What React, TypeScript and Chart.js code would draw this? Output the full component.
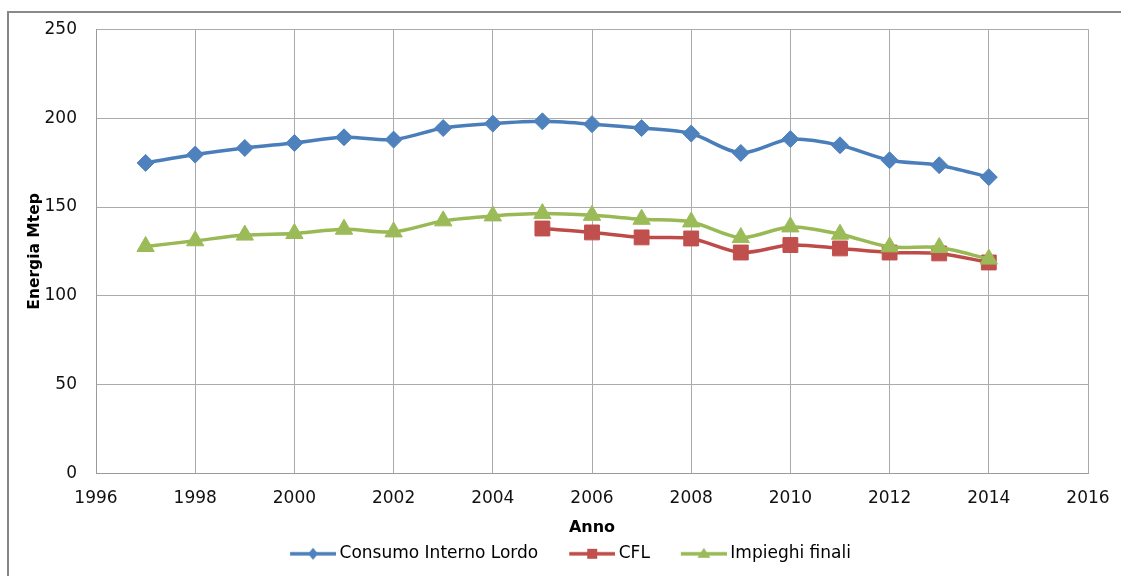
import React, { useEffect, useRef } from "react";
import { Chart, registerables } from "chart.js";

Chart.register(...registerables);

// ---- data ----
const years = [1997, 1998, 1999, 2000, 2001, 2002, 2003, 2004, 2005, 2006, 2007, 2008, 2009, 2010, 2011, 2012, 2013, 2014];
const consumoInternoLordo = [174.8, 179.5, 183.2, 186.0, 189.2, 187.9, 194.4, 196.9, 198.2, 196.6, 194.4, 191.3, 180.4, 188.2, 184.7, 176.3, 173.5, 166.8];
const impieghiFinali = [127.8, 131.0, 134.2, 135.1, 137.5, 136.0, 142.2, 145.0, 146.3, 145.3, 143.1, 141.6, 132.8, 138.8, 134.7, 127.6, 127.2, 120.7];
const cflYears = [2005, 2006, 2007, 2008, 2009, 2010, 2011, 2012, 2013, 2014];
const cfl = [137.9, 135.7, 132.9, 132.3, 124.4, 128.6, 126.7, 124.4, 123.9, 118.8];

const seriesNames = ["Consumo Interno Lordo", "CFL", "Impieghi finali"];
const xTitle = "Anno";
const yTitle = "Energia Mtep";
const xMin = 1996, xMax = 2016, xStep = 2;
const yMin = 0, yMax = 250, yStep = 50;

const BLUE_LINE = "#4A7EBB", BLUE_FILL = "#4F81BD";
const RED_LINE = "#BE4B48", RED_FILL = "#C0504D";
const GREEN_LINE = "#98B954", GREEN_FILL = "#9BBB59";

function toPoints(xs: number[], ys: number[]) {
  return xs.map((x, i) => ({ x, y: ys[i] }));
}

function legendIcon(lineColor: string, fill: string, shape: string) {
  const c = document.createElement("canvas");
  c.width = 74;
  c.height = 20;
  const ctx = c.getContext("2d")!;
  ctx.strokeStyle = lineColor;
  ctx.lineWidth = 3.5;
  ctx.beginPath();
  ctx.moveTo(28, 10);
  ctx.lineTo(74, 10);
  ctx.stroke();
  const cx = 51, cy = 10;
  ctx.fillStyle = fill;
  ctx.beginPath();
  if (shape === "diamond") {
    ctx.moveTo(cx, cy - 6);
    ctx.lineTo(cx + 5, cy);
    ctx.lineTo(cx, cy + 6);
    ctx.lineTo(cx - 5, cy);
  } else if (shape === "square") {
    ctx.rect(cx - 5, cy - 5, 10, 10);
  } else {
    ctx.moveTo(cx, cy - 6);
    ctx.lineTo(cx + 6.5, cy + 4);
    ctx.lineTo(cx - 6.5, cy + 4);
  }
  ctx.closePath();
  ctx.fill();
  return c;
}

export default function App() {
  const ref = useRef<HTMLCanvasElement>(null);

  useEffect(() => {
    const canvas = ref.current!;
    Chart.defaults.font.family = "'DejaVu Sans', sans-serif";
    Chart.defaults.color = "#111";

    const icons = [
      legendIcon(BLUE_LINE, BLUE_FILL, "diamond"),
      legendIcon(RED_LINE, RED_FILL, "square"),
      legendIcon(GREEN_LINE, GREEN_FILL, "triangle"),
    ];

    const chart = new Chart(canvas, {
      type: "line",
      data: {
        datasets: [
          {
            label: seriesNames[0],
            data: toPoints(years, consumoInternoLordo),
            borderColor: BLUE_LINE,
            backgroundColor: BLUE_FILL,
            pointBackgroundColor: BLUE_FILL,
            pointBorderColor: BLUE_FILL,
            pointStyle: "rectRot",
            pointRadius: 8.5,
            pointBorderWidth: 1,
            borderWidth: 3.5,
            tension: 0.3,
            order: 0,
          },
          {
            label: seriesNames[1],
            data: toPoints(cflYears, cfl),
            borderColor: RED_LINE,
            backgroundColor: RED_FILL,
            pointBackgroundColor: RED_FILL,
            pointBorderColor: RED_FILL,
            pointStyle: "rect",
            pointRadius: 10.5,
            pointBorderWidth: 1,
            borderWidth: 3.5,
            tension: 0.3,
            order: 2,
          },
          {
            label: seriesNames[2],
            data: toPoints(years, impieghiFinali),
            borderColor: GREEN_LINE,
            backgroundColor: GREEN_FILL,
            pointBackgroundColor: GREEN_FILL,
            pointBorderColor: GREEN_FILL,
            pointStyle: "triangle",
            pointRadius: 10,
            pointBorderWidth: 1,
            borderWidth: 3.5,
            tension: 0.3,
            order: 1,
          },
        ],
      },
      options: {
        responsive: false,
        animation: false,
        layout: { padding: { left: 30, right: 37, top: 27.5, bottom: 3.7 } },
        plugins: {
          tooltip: { enabled: false },
          legend: {
            position: "bottom",
            labels: {
              usePointStyle: true,
              pointStyleWidth: 64,
              padding: 8,
              color: "#111",
              font: { size: 17 },
              generateLabels: () =>
                seriesNames.map((name, i) => ({
                  text: name,
                  pointStyle: icons[i] as any,
                  fillStyle: "transparent",
                  strokeStyle: "transparent",
                  lineWidth: 0,
                  hidden: false,
                  datasetIndex: i,
                })),
            },
          },
        },
        scales: {
          x: {
            type: "linear",
            min: xMin,
            max: xMax,
            grid: { color: "#ababab", lineWidth: 1, drawTicks: false },
            border: { color: "#9a9a9a", width: 1 },
            ticks: {
              stepSize: xStep,
              padding: 15,
              font: { size: 17 },
              color: "#111",
              callback: (v: any) => String(v),
            },
            title: {
              display: true,
              text: xTitle,
              font: { size: 16, weight: "bold" },
              color: "#000",
              padding: { top: -6, bottom: 0 },
            },
          },
          y: {
            min: yMin,
            max: yMax,
            afterFit: (s: any) => {
              s.width = 66;
            },
            grid: { color: "#ababab", lineWidth: 1, drawTicks: false },
            border: { color: "#9a9a9a", width: 1 },
            ticks: {
              stepSize: yStep,
              padding: 19,
              font: { size: 17 },
              color: "#111",
            },
            title: {
              display: true,
              text: yTitle,
              font: { size: 15.5, weight: "bold" },
              color: "#000",
              padding: { top: -4.3, bottom: 0 },
            },
          },
        },
      },
    } as any);
    return () => chart.destroy();
  }, []);

  return (
    <div style={{ position: "absolute", left: 0, top: 0, width: 1121, height: 576, overflow: "hidden", background: "#fff" }}>
      <div
        style={{
          position: "absolute",
          left: 7,
          top: 11,
          width: 1300,
          height: 800,
          borderLeft: "2px solid #858585",
          borderTop: "2px solid #8a8a8a",
        }}
      />
      <canvas
        ref={ref}
        width={1125}
        height={576}
        style={{ position: "absolute", left: 0, top: 0, width: 1125, height: 576 }}
      />
    </div>
  );
}
